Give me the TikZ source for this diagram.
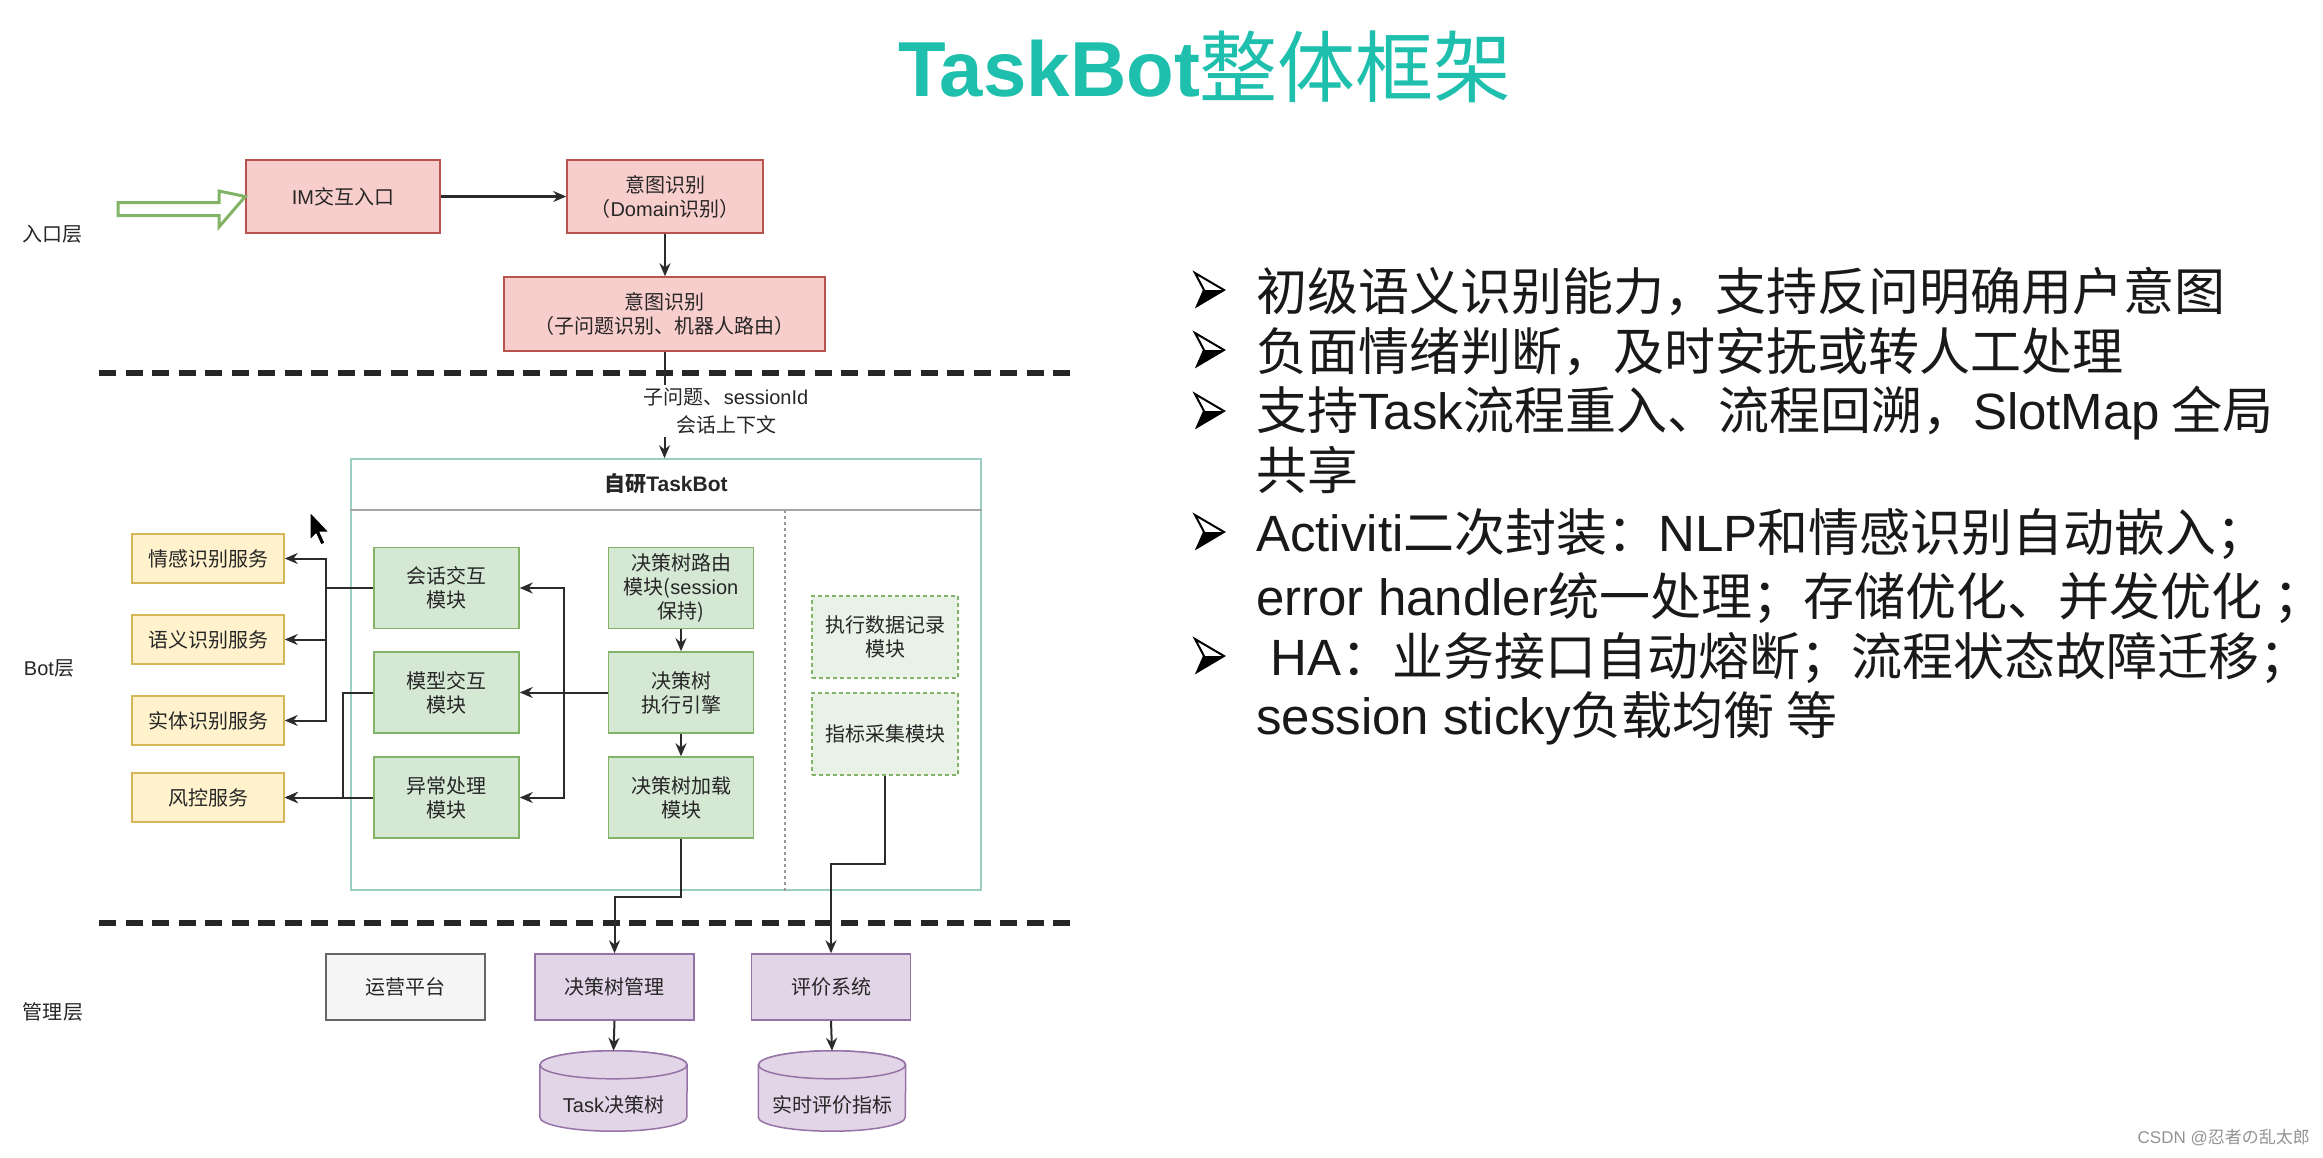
\documentclass[tikz,border=0pt]{standalone}
\usepackage{fontspec}
\setmainfont{Noto Sans CJK SC}
\newfontfamily\latf{Liberation Sans}
\usetikzlibrary{arrows.meta,calc}
\definecolor{pinkF}{HTML}{F8CECC}\definecolor{pinkD}{HTML}{B85450}
\definecolor{grnF}{HTML}{D5E8D4}\definecolor{grnD}{HTML}{82B366}
\definecolor{ylwF}{HTML}{FFF2CC}\definecolor{ylwD}{HTML}{D6B656}
\definecolor{purF}{HTML}{E1D5E7}\definecolor{purD}{HTML}{9673A6}
\definecolor{gryF}{HTML}{F5F5F5}\definecolor{gryD}{HTML}{666666}
\definecolor{titlecol}{HTML}{1FBFAE}
\definecolor{contD}{HTML}{9CCFC4}
\definecolor{lineC}{HTML}{2B2B2B}
\tikzset{
  txt/.style={font=\fontsize{20}{24}\selectfont, align=center, inner sep=0pt, text=black!85},
  boxbase/.style={txt, line width=1.5pt},
  pinkbox/.style={boxbase, draw=pinkD, fill=pinkF},
  grnbox/.style={boxbase, draw=grnD, fill=grnF, minimum width=145pt, minimum height=81pt},
  dashbox/.style={boxbase, draw=grnD, fill=grnF!55!white, dash pattern=on 4pt off 3pt, minimum width=146pt, minimum height=82pt},
  ylwbox/.style={boxbase, draw=ylwD, fill=ylwF, minimum width=152pt, minimum height=49pt},
  purbox/.style={boxbase, draw=purD, fill=purF, minimum width=159pt, minimum height=66pt},
  grybox/.style={boxbase, draw=gryD, fill=gryF, minimum width=159pt, minimum height=66pt},
  conn/.style={draw=lineC, line width=2pt, -{Stealth[length=13pt,width=11pt]}},
  layerline/.style={line width=6pt, dash pattern=on 17pt off 9.5pt, black!85},
  item/.style={font=\fontsize{51}{61}\selectfont, anchor=west, inner sep=0pt, text=black!90},
}
\begin{document}
\begin{tikzpicture}[x=1pt,y=-1pt]
\useasboundingbox[fill=white] (0,0) rectangle (2323,1157);

% title
\node[font=\fontsize{78}{80}\selectfont, text=titlecol, inner sep=0pt] (title) at (1205,67) {{\latf\bfseries TaskBot}整体框架};

% layer labels
\node[txt] (l1) at (52,234) {入口层};
\node[txt] (l2) at (49,668) {{\latf Bot}层};
\node[txt] (l3) at (53,1012) {管理层};

% layer separators
\draw[layerline] (99,373) -- (1070,373);
\draw[layerline] (99,923) -- (1070,923);

% entry layer
\node[pinkbox, minimum width=194pt, minimum height=73pt] (im) at (343,196.5) {{\latf IM}交互入口};
\node[pinkbox, minimum width=196pt, minimum height=73pt] (dom) at (665,196.5) {意图识别\\（{\latf Domain}识别）};
\node[pinkbox, minimum width=321pt, minimum height=74pt] (sub) at (664.5,314) {意图识别\\（子问题识别、机器人路由）};
\draw[grnD, line width=3pt, fill=white, line join=miter] (118,202.5) -- (219,202.5) -- (219,191) -- (im.west) -- (219,227) -- (219,215.5) -- (118,215.5) -- cycle;
\draw[conn, line width=3.5pt] (im.east) -- (dom.west);
\draw[conn] (dom.south) -- (dom.south |- sub.north);

% TaskBot container
\node[draw=contD, line width=1.5pt, minimum width=630pt, minimum height=431pt, inner sep=0pt] (tb) at (666,674.5) {};
\draw[gray!70, line width=1.5pt] (tb.west |- 0,510) -- (tb.east |- 0,510);
\node[txt, font=\bfseries\fontsize{21}{24}\selectfont] (tbh) at (666,484) {自研{\latf\bfseries TaskBot}};
\draw[gray!80, line width=1.5pt, dash pattern=on 3pt off 3pt] (785,510) -- (tb.south -| 785,0);

\draw[conn] (sub.south) -- (sub.south |- tb.north);
\node[txt, fill=white, inner sep=3pt, font=\fontsize{20}{28}\selectfont] (lbl) at (726,411) {子问题、{\latf sessionId}\\会话上下文};

% green modules
\node[grnbox] (hh) at (446.5,588) {会话交互\\模块};
\node[grnbox] (mx) at (446.5,692.5) {模型交互\\模块};
\node[grnbox] (yc) at (446.5,797.5) {异常处理\\模块};
\node[grnbox] (ly) at (681,588) {决策树路由\\模块({\latf session}\\保持)};
\node[grnbox] (ex) at (681,692.5) {决策树\\执行引擎};
\node[grnbox] (jz) at (681,797.5) {决策树加载\\模块};
\node[dashbox] (jl) at (885,637) {执行数据记录\\模块};
\node[dashbox] (zb) at (885,734) {指标采集模块};

% services
\node[ylwbox] (qg) at (208,558.5) {情感识别服务};
\node[ylwbox] (yy) at (208,639.5) {语义识别服务};
\node[ylwbox] (st) at (208,720.5) {实体识别服务};
\node[ylwbox] (fk) at (208,797.5) {风控服务};

% connectors in bot layer
\draw[conn] (hh.west) -- ++(-47,0) |- (qg.east);
\draw[conn] (hh.west) -- ++(-47,0) |- (yy.east);
\draw[conn] (hh.west) -- ++(-47,0) |- (st.east);
\draw[conn] (mx.west) -- ++(-30,0) |- (fk.east);
\draw[conn] (yc.west) -- (fk.east);
\draw[conn] (ex.west) -- (mx.east);
\draw[conn] (ex.west) -- ++(-43.5,0) |- (hh.east);
\draw[conn] (ex.west) -- ++(-43.5,0) |- (yc.east);
\draw[conn] (ly.south) -- (ex.north);
\draw[conn] (ex.south) -- (jz.north);

% management layer
\node[grybox] (yp) at (405.5,987) {运营平台};
\node[purbox] (gl) at (614.5,987) {决策树管理};
\node[purbox] (pj) at (831,987) {评价系统};

\draw[conn] (jz.south) -- ++(0,58) -| (gl.north);
\draw[conn] (zb.south) -- ++(0,88) -| (pj.north);

% cylinders
\node[minimum width=147pt, minimum height=80pt, inner sep=0pt] (c1) at (613.5,1091) {};
\node[minimum width=147pt, minimum height=80pt, inner sep=0pt] (c2) at (832,1091) {};
\foreach \c in {c1,c2}{
  \draw[purD, fill=purF, line width=1.5pt]
    ($(\c.north west)+(0,14)$) -- ($(\c.south west)+(0,-14)$)
    arc[start angle=180, end angle=360, x radius=73.5pt, y radius=14pt]
    -- ($(\c.north east)+(0,14)$)
    arc[start angle=0, end angle=180, x radius=73.5pt, y radius=14pt] -- cycle;
  \draw[purD, fill=purF, line width=1.5pt] ($(\c.north)+(0,14)$) ellipse[x radius=73.5pt, y radius=14pt];
}
\node[txt] (c1t) at ($(c1.center)+(0,14)$) {{\latf Task}决策树};
\node[txt] (c2t) at ($(c2.center)+(0,14)$) {实时评价指标};
\draw[conn] (gl.south) -- (c1.north);
\draw[conn] (pj.south) -- (c2.north);

% mouse cursor
\draw[white, line width=1pt, fill=black, line join=round] (310,512) -- (310,540) -- (316,534) -- (321,545) -- (325,543) -- (320,532) -- (329,532) -- cycle;

% right bullet list
\foreach \yy in {292,352,413,534,658}{
  \draw[black, line width=2pt, line join=miter] (1195,\yy-19) -- (1224,\yy-2) -- (1197,\yy+14) -- (1204,\yy-2) -- cycle;
  \fill[black] (1204,\yy-2) -- (1224,\yy-2) -- (1197,\yy+14) -- cycle;
}
\node[item] (t1) at (1256,292) {初级语义识别能力，支持反问明确用户意图};
\node[item] (t2) at (1256,352) {负面情绪判断，及时安抚或转人工处理};
\node[item] (t3) at (1256,413) {支持{\latf Task}流程重入、流程回溯，{\latf SlotMap} 全局};
\node[item] (t3b) at (1256,470) {共享};
\node[item] (t4) at (1256,534) {{\latf Activiti}二次封装：{\latf NLP}和情感识别自动嵌入；};
\node[item] (t4b) at (1256,598) {{\latf error handler}统一处理；存储优化、并发优化 ；};
\node[item] (t5) at (1256,658) {{\latf\ HA}：业务接口自动熔断；流程状态故障迁移；};
\node[item] (t5b) at (1256,718) {{\latf session sticky}负载均衡 等};

% watermark
\node[font=\fontsize{17}{17}\selectfont, text=gray!85, anchor=east, inner sep=0pt] (wm) at (2310,1138) {{\latf CSDN @}忍者の乱太郎};
\end{tikzpicture}
\end{document}
